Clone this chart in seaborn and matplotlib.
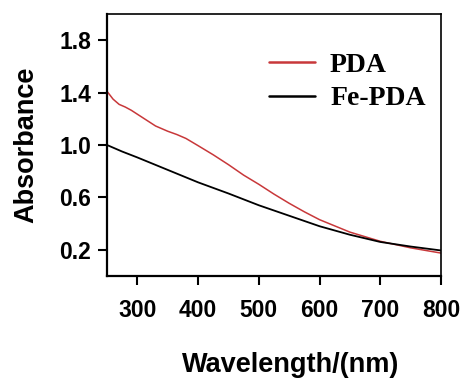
import pandas as pd
import matplotlib.pyplot as plt
import seaborn as sns

# ==============================================================================
# DATA
# ==============================================================================

pda_wavelength = [250, 260, 270, 280, 290, 300, 310, 320, 330, 340, 350, 365,
                  380, 400, 425, 450, 475, 500, 525, 550, 575, 600, 650, 700,
                  750, 800]
pda_absorbance = [1.41, 1.35, 1.31, 1.29, 1.265, 1.235, 1.205, 1.175, 1.145,
                  1.125, 1.105, 1.08, 1.05, 0.995, 0.925, 0.85, 0.77, 0.70,
                  0.625, 0.555, 0.49, 0.43, 0.335, 0.265, 0.215, 0.175]

fe_pda_wavelength = [250, 275, 300, 350, 400, 450, 500, 550, 600, 650, 700,
                     750, 800]
fe_pda_absorbance = [1.00, 0.95, 0.905, 0.81, 0.715, 0.63, 0.54, 0.46, 0.38,
                     0.315, 0.26, 0.225, 0.195]

x_ticks = [300, 400, 500, 600, 700, 800]
y_ticks = [0.2, 0.6, 1.0, 1.4, 1.8]

# ==============================================================================
# PLOT
# ==============================================================================

sns.set_style("ticks")
plt.rcParams['font.family'] = ['Liberation Sans', 'DejaVu Sans']
plt.rcParams['text.color'] = 'black'
plt.rcParams['axes.labelcolor'] = 'black'
plt.rcParams['xtick.color'] = 'black'
plt.rcParams['ytick.color'] = 'black'
plt.rcParams['axes.edgecolor'] = 'black'

df_pda = pd.DataFrame({'Wavelength': pda_wavelength, 'Absorbance': pda_absorbance})
df_fe = pd.DataFrame({'Wavelength': fe_pda_wavelength, 'Absorbance': fe_pda_absorbance})

fig = plt.figure(figsize=(4.66, 3.78), dpi=100)
ax = fig.add_axes([0.2296, 0.2698, 0.7168, 0.6932])

sns.lineplot(data=df_pda, x='Wavelength', y='Absorbance', ax=ax,
             color='#c8383a', linewidth=1.1, label='PDA')
sns.lineplot(data=df_fe, x='Wavelength', y='Absorbance', ax=ax,
             color='black', linewidth=1.3, label='Fe-PDA')

ax.set_xlim(250, 800)
ax.set_ylim(0.0, 2.0)
ax.set_xticks(x_ticks)
ax.set_yticks(y_ticks)
ax.set_yticklabels([f'{v:.1f}' for v in y_ticks])

for side in ['left', 'bottom']:
    ax.spines[side].set_linewidth(1.6)
for side in ['top', 'right']:
    ax.spines[side].set_linewidth(1.2)

ax.tick_params(axis='both', direction='out', length=6.5, width=1.5,
               labelsize=16.5)
ax.tick_params(axis='x', pad=10)
ax.tick_params(axis='y', pad=5)
for lbl in ax.get_xticklabels() + ax.get_yticklabels():
    lbl.set_fontweight('bold')

ax.set_xlabel('Wavelength/(nm)', fontsize=19.5, fontweight='bold', labelpad=22)
ax.xaxis.label.set_x(0.551)  # label sits a bit right of the axis centre
ax.set_ylabel('Absorbance', fontsize=19.5, fontweight='bold', labelpad=14)

leg = ax.legend(loc='upper left', bbox_to_anchor=(0.41, 0.95), frameon=False,
                handlelength=1.65, handletextpad=0.55, labelspacing=0.3,
                prop={'family': 'Liberation Serif', 'weight': 'bold', 'size': 20})
for line in leg.get_lines():
    line.set_linewidth(1.8)

plt.savefig('out.png', dpi=100)
